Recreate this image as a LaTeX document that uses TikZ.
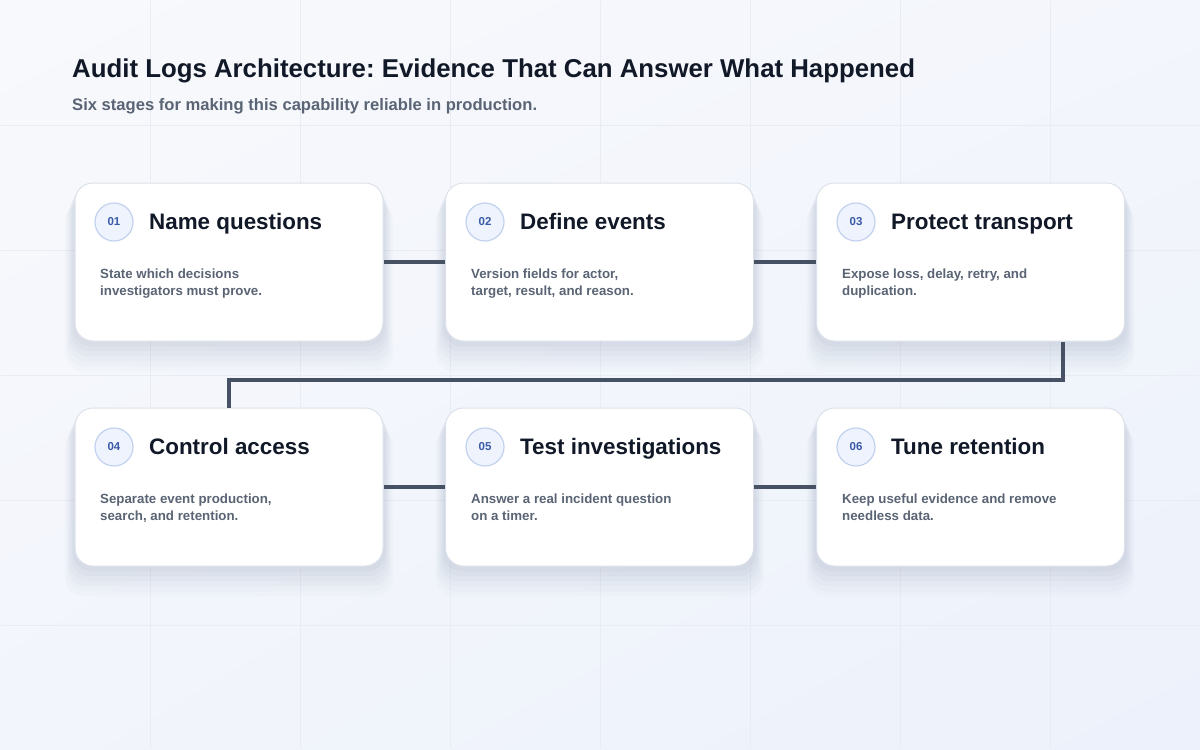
\documentclass[tikz,border=0pt]{standalone}
\usepackage{fontspec}
\setmainfont{Liberation Sans}
\frenchspacing
\usetikzlibrary{shadows,shadings}
\definecolor{bgTop}{HTML}{F8F9FC}
\definecolor{bgLow}{HTML}{ECF1FB}
\definecolor{gridTone}{HTML}{E8ECF4}
\definecolor{ink}{HTML}{111827}
\definecolor{muted}{HTML}{5A6474}
\definecolor{cardLine}{HTML}{DDE2EA}
\definecolor{shadeTone}{HTML}{56658A}
\definecolor{badgeFill}{HTML}{EEF3FD}
\definecolor{badgeLine}{HTML}{C2D2EE}
\definecolor{badgeInk}{HTML}{3A5AA8}
\definecolor{linkTone}{HTML}{465164}
\tikzset{
  card/.style={draw=cardLine, line width=1pt, fill=white, rounded corners=18pt,
    minimum width=308pt, minimum height=158pt,
    general shadow={fill=shadeTone, fill opacity=0.018, shadow scale=1.065, shadow yshift=-24pt},
    general shadow={fill=shadeTone, fill opacity=0.022, shadow scale=1.055, shadow yshift=-20pt},
    general shadow={fill=shadeTone, fill opacity=0.026, shadow scale=1.045, shadow yshift=-16pt},
    general shadow={fill=shadeTone, fill opacity=0.03, shadow scale=1.035, shadow yshift=-12pt},
    general shadow={fill=shadeTone, fill opacity=0.035, shadow scale=1.025, shadow yshift=-8pt},
    general shadow={fill=shadeTone, fill opacity=0.04, shadow scale=1.015, shadow yshift=-4pt}},
  badge/.style={circle, draw=badgeLine, line width=1.2pt, fill=badgeFill, minimum size=38pt,
    inner sep=0pt, text=badgeInk, font=\bfseries\fontsize{11.5}{13}\selectfont},
  heading/.style={anchor=base west, inner sep=0pt, text=ink, font=\bfseries\fontsize{22.4}{26}\selectfont},
  blurb/.style={anchor=base west, inner sep=0pt, align=left, text=muted, font=\bfseries\fontsize{13.3}{17}\selectfont},
  link/.style={draw=linkTone, line width=4pt}
}
\begin{document}
\begin{tikzpicture}[x=1pt,y=-1pt]
\useasboundingbox (0,0) rectangle (1200,750);
\shade[upper left=bgTop, upper right=bgTop!60!bgLow, lower left=bgTop!50!bgLow, lower right=bgLow] (0,0) rectangle (1200,750);
\draw[gridTone, line width=1pt, xstep=150pt, ystep=125pt] (1,1) grid (1199,749);

% title
\node[anchor=base west, inner sep=0pt, text=ink, font=\bfseries\fontsize{25.8}{30}\selectfont] (head) at (72,77) {Audit Logs Architecture: Evidence That Can Answer What Happened};
\node[anchor=base west, inner sep=0pt, text=muted, font=\bfseries\fontsize{16.6}{20}\selectfont] (sub) at (72,110) {Six stages for making this capability reliable in production.};

% cards
\node[card] (c1) at (229,262) {};
\node[card] (c2) at (599.5,262) {};
\node[card] (c3) at (970.5,262) {};
\node[card] (c4) at (229,487) {};
\node[card] (c5) at (599.5,487) {};
\node[card] (c6) at (970.5,487) {};

% connectors
\draw[link] (c1.east) -- (c2.west);
\draw[link] (c2.east) -- (c3.west);
\draw[link] ([xshift=-62pt]c3.south east) -- ++(0,38) -| (c4.north);
\draw[link] (c4.east) -- (c5.west);
\draw[link] (c5.east) -- (c6.west);

% stage 01
\node[badge] (b1) at (114,222) {01};
\node[heading] (t1) at (149,229) {Name questions};
\node[blurb] (d1) at (100,295) {State which decisions\\investigators must prove.};
% stage 02
\node[badge] (b2) at (485,222) {02};
\node[heading] (t2) at (520,229) {Define events};
\node[blurb] (d2) at (471,295) {Version fields for actor,\\target, result, and reason.};
% stage 03
\node[badge] (b3) at (856,222) {03};
\node[heading] (t3) at (891,229) {Protect transport};
\node[blurb] (d3) at (842,295) {Expose loss, delay, retry, and\\duplication.};
% stage 04
\node[badge] (b4) at (114,447) {04};
\node[heading] (t4) at (149,454) {Control access};
\node[blurb] (d4) at (100,520) {Separate event production,\\search, and retention.};
% stage 05
\node[badge] (b5) at (485,447) {05};
\node[heading] (t5) at (520,454) {Test investigations};
\node[blurb] (d5) at (471,520) {Answer a real incident question\\on a timer.};
% stage 06
\node[badge] (b6) at (856,447) {06};
\node[heading] (t6) at (891,454) {Tune retention};
\node[blurb] (d6) at (842,520) {Keep useful evidence and remove\\needless data.};
\end{tikzpicture}
\end{document}
